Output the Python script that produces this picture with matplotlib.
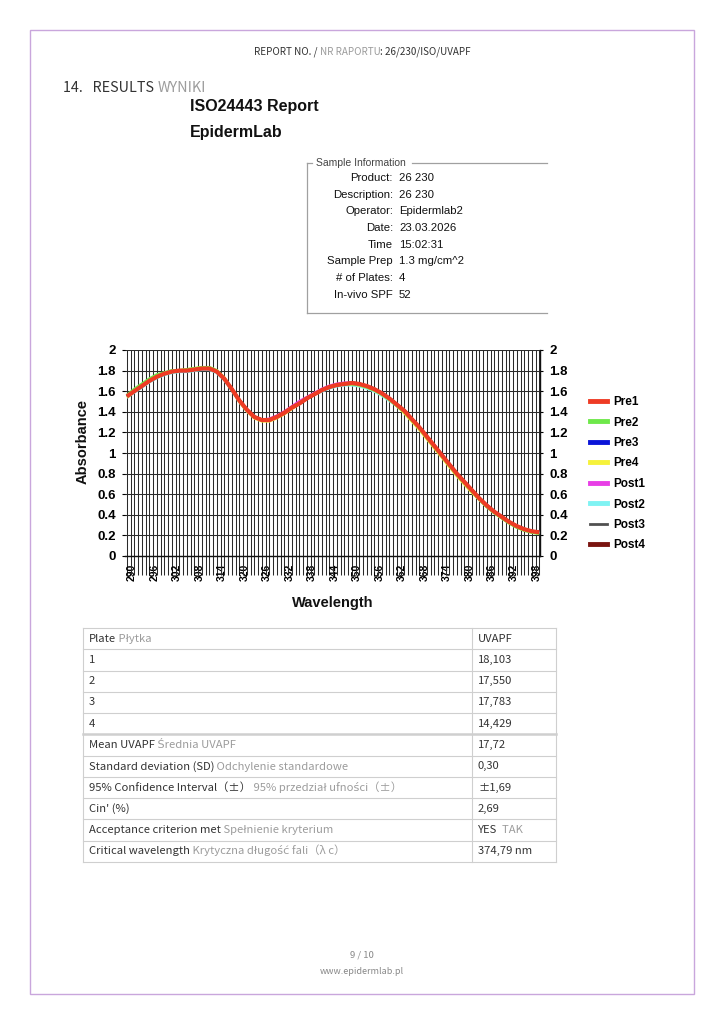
import numpy as np
import matplotlib
matplotlib.use('Agg')
import matplotlib.pyplot as plt
from matplotlib.lines import Line2D
from matplotlib.patches import Rectangle
from matplotlib.ticker import MultipleLocator, FixedLocator, FuncFormatter
from matplotlib.transforms import offset_copy

# ---- data ----
wavelength = np.arange(290, 401, 2)

pre1 = [1.55, 1.60, 1.65, 1.70, 1.74, 1.77, 1.79, 1.80, 1.80, 1.81, 1.82, 1.82, 1.79, 1.72,
        1.62, 1.51, 1.42, 1.35, 1.32, 1.32, 1.35, 1.39, 1.44, 1.48, 1.53, 1.57, 1.61, 1.64,
        1.66, 1.67, 1.68, 1.67, 1.65, 1.62, 1.58, 1.53, 1.47, 1.41, 1.33, 1.25, 1.16, 1.07,
        0.98, 0.89, 0.80, 0.72, 0.64, 0.56, 0.49, 0.43, 0.38, 0.33, 0.29, 0.26, 0.24, 0.23]
pre2 = [1.56, 1.62, 1.67, 1.72, 1.76, 1.78, 1.80, 1.80, 1.81, 1.82, 1.83, 1.83, 1.80, 1.72,
        1.62, 1.51, 1.42, 1.35, 1.32, 1.32, 1.35, 1.39, 1.44, 1.48, 1.53, 1.57, 1.61, 1.64,
        1.66, 1.67, 1.67, 1.66, 1.64, 1.61, 1.57, 1.52, 1.46, 1.40, 1.32, 1.24, 1.15, 1.06,
        0.97, 0.88, 0.79, 0.71, 0.63, 0.55, 0.48, 0.42, 0.37, 0.32, 0.28, 0.25, 0.23, 0.22]
pre4 = [1.54, 1.60, 1.65, 1.70, 1.74, 1.77, 1.79, 1.80, 1.81, 1.82, 1.83, 1.83, 1.80, 1.73,
        1.62, 1.50, 1.41, 1.34, 1.31, 1.31, 1.34, 1.38, 1.43, 1.48, 1.53, 1.57, 1.61, 1.64,
        1.66, 1.67, 1.67, 1.66, 1.64, 1.61, 1.57, 1.52, 1.46, 1.39, 1.31, 1.23, 1.14, 1.05,
        0.96, 0.87, 0.78, 0.70, 0.62, 0.55, 0.48, 0.42, 0.37, 0.32, 0.28, 0.25, 0.23, 0.22]
post1 = [1.55, 1.60, 1.65, 1.70, 1.74, 1.77, 1.79, 1.80, 1.80, 1.81, 1.82, 1.82, 1.79, 1.72,
         1.62, 1.51, 1.42, 1.35, 1.32, 1.33, 1.36, 1.40, 1.45, 1.50, 1.54, 1.58, 1.62, 1.65,
         1.67, 1.68, 1.68, 1.67, 1.65, 1.62, 1.58, 1.53, 1.47, 1.41, 1.33, 1.25, 1.16, 1.07,
         0.98, 0.89, 0.80, 0.72, 0.64, 0.56, 0.49, 0.43, 0.38, 0.33, 0.29, 0.26, 0.24, 0.23]
post2 = [1.54, 1.59, 1.64, 1.69, 1.73, 1.76, 1.78, 1.79, 1.79, 1.80, 1.81, 1.81, 1.78, 1.71,
         1.61, 1.50, 1.41, 1.35, 1.32, 1.32, 1.35, 1.39, 1.44, 1.48, 1.53, 1.57, 1.60, 1.63,
         1.65, 1.66, 1.66, 1.65, 1.63, 1.60, 1.56, 1.51, 1.46, 1.40, 1.32, 1.24, 1.15, 1.06,
         0.97, 0.88, 0.79, 0.71, 0.63, 0.55, 0.48, 0.42, 0.37, 0.32, 0.28, 0.25, 0.23, 0.22]
# these three sit completely under Pre1 in the picture
pre3 = list(pre1)
post3 = list(pre1)
post4 = list(pre1)

series_names = ['Pre1', 'Pre2', 'Pre3', 'Pre4', 'Post1', 'Post2', 'Post3', 'Post4']
series_vals = [pre1, pre2, pre3, pre4, post1, post2, post3, post4]
series_cols = ['#ee3b24', '#6ee84a', '#0a14d8', '#f6f23a', '#e83ee6', '#7ff3f3', '#505050', '#7a1410']

sample_labels = ['Product:', 'Description:', 'Operator:', 'Date:', 'Time', 'Sample Prep',
                 '# of Plates:', 'In-vivo SPF']
sample_values = ['26 230', '26 230', 'Epidermlab2', '23.03.2026', '15:02:31', '1.3 mg/cm^2',
                 '4', '52']

table_en = ['Plate', '1', '2', '3', '4', 'Mean UVAPF', 'Standard deviation (SD)',
            '95% Confidence Interval（±）', "Cin' (%)", 'Acceptance criterion met',
            'Critical wavelength']
table_pl = ['Płytka', '', '', '', '', 'Średnia UVAPF', 'Odchylenie standardowe',
            '95% przedział ufności（±）', '', 'Spełnienie kryterium',
            'Krytyczna długość fali（λ c）']
table_val = ['UVAPF', '18,103', '17,550', '17,783', '14,429', '17,72', '0,30', '±1,69',
             '2,69', 'YES', '374,79 nm']
table_val_pl = ['', '', '', '', '', '', '', '', '', 'TAK', '']

# ---- page ----
W, H = 724, 1024
DOC = ['Noto Sans CJK JP', 'DejaVu Sans']
ARIAL = ['Liberation Sans', 'DejaVu Sans']
DARK = '#333333'
GREY = '#9c9c9c'

fig = plt.figure(figsize=(7.24, 10.24), dpi=100)
page = fig.add_axes([0, 0, 1, 1])
page.set_xlim(0, W)
page.set_ylim(H, 0)
page.axis('off')

page.add_patch(Rectangle((30, 30), 664, 964, fill=False, ec='#c9a6dc', lw=1.0))


def chunks(x, y, parts, size, family=DOC):
    prev = None
    for txt, col in parts:
        if prev is None:
            prev = page.text(x, y, txt, color=col, fontsize=size, family=family,
                             ha='left', va='center')
        else:
            prev = page.annotate(txt, xy=(1, 0), xycoords=prev, color=col, fontsize=size,
                                 family=family, ha='left', va='bottom')
    return prev


chunks(254, 52, [('REPORT NO. / ', DARK), ('NR RAPORTU', GREY), (': 26/230/ISO/UVAPF', DARK)], 7.1)
chunks(63, 88, [('14.   RESULTS ', DARK), ('WYNIKI', GREY)], 10.3)

page.text(190, 107, 'ISO24443 Report', fontsize=11.5, fontweight='bold', family=ARIAL,
          ha='left', va='center', color='#111111')
page.text(190, 133, 'EpidermLab', fontsize=11.5, fontweight='bold', family=ARIAL,
          ha='left', va='center', color='#111111')

# sample information frame
page.plot([307, 312], [163, 163], color='#a0a0a0', lw=0.9)
page.plot([412, 547], [163, 163], color='#a0a0a0', lw=0.9)
page.plot([307, 307], [163, 313], color='#a0a0a0', lw=0.9)
page.plot([307, 547], [313, 313], color='#a0a0a0', lw=0.9)
page.text(316, 163, 'Sample Information', fontsize=7.5, family=ARIAL, color='#444444',
          ha='left', va='center')
for i, (lab, val) in enumerate(zip(sample_labels, sample_values)):
    yy = 178 + i * 16.7
    page.text(393, yy, lab, fontsize=8.2, family=ARIAL, color='#111111', ha='right', va='center')
    page.text(399, yy, val, fontsize=8.2, family=ARIAL, color='#111111', ha='left', va='center')

# results table
row_y = np.linspace(628, 862, len(table_en) + 1)
for i, yy in enumerate(row_y):
    page.plot([83, 556], [yy, yy], color='#cfcfcf', lw=1.8 if i == 5 else 0.8)
for xx in [83, 472, 556]:
    page.plot([xx, xx], [row_y[0], row_y[-1]], color='#cfcfcf', lw=0.8)
for i in range(len(table_en)):
    yc = (row_y[i] + row_y[i + 1]) / 2
    parts = [(table_en[i], DARK)]
    if table_pl[i]:
        parts.append((' ' + table_pl[i], GREY))
    chunks(89, yc, parts, 8.1)
    vparts = [(table_val[i], DARK)]
    if table_val_pl[i]:
        vparts.append(('  ' + table_val_pl[i], GREY))
    chunks(478, yc, vparts, 8.1)

page.text(362, 955, '9 / 10', fontsize=6.8, family=DOC, color='#888888', ha='center', va='center')
page.text(362, 972, 'www.epidermlab.pl', fontsize=6.5, family=DOC, color='#888888',
          ha='center', va='center')

# ---- absorbance chart ----
ax = fig.add_axes([125 / W, 1 - 556 / H, 415 / W, 206 / H])
ax.set_facecolor('white')
for name, vals, col in list(zip(series_names, series_vals, series_cols))[::-1]:
    lw = 3.0 if name == 'Pre1' else 2.2
    ax.plot(wavelength, vals, color=col, lw=lw, solid_capstyle='butt', zorder=3)

ax.set_xlim(289.5, 400.2)
ax.set_ylim(0, 2)
ax.xaxis.set_major_locator(FixedLocator(np.arange(290, 399, 6)))
ax.xaxis.set_minor_locator(MultipleLocator(1))
ax.yaxis.set_major_locator(MultipleLocator(0.2))
ax.yaxis.set_major_formatter(FuncFormatter(lambda v, p: f'{v:g}'))
ax.grid(True, which='both', axis='x', color='#2a2a2a', lw=0.75, zorder=1)
ax.grid(True, which='major', axis='y', color='#2a2a2a', lw=0.75, zorder=1)
ax.set_axisbelow(True)

ax.tick_params(axis='x', which='both', direction='out', length=14, width=0.75,
               color='#2a2a2a', bottom=True, top=False)
ax.tick_params(axis='x', which='major', pad=-8.5, labelsize=7.5, rotation=90)
ax.tick_params(axis='y', which='major', direction='out', length=2.5, width=0.8,
               left=True, right=True, labelleft=True, labelright=True, labelsize=9.5, pad=4)
for lab in ax.get_xticklabels() + ax.get_yticklabels():
    lab.set_fontweight('bold')
    lab.set_family(ARIAL)
for lab in ax.get_xticklabels():
    lab.set_transform(offset_copy(lab.get_transform(), fig=fig, x=5, y=0, units='dots'))

ax.spines['top'].set_visible(False)
ax.spines['left'].set_visible(False)
ax.spines['bottom'].set_color('#111111')
ax.spines['right'].set_color('#111111')
ax.spines['bottom'].set_linewidth(1.0)
ax.spines['right'].set_linewidth(1.0)

page.text(83, 441, 'Absorbance', rotation=90, fontsize=10.5, fontweight='bold', family=ARIAL,
          ha='center', va='center', color='#111111')
page.text(333, 603, 'Wavelength', fontsize=10.5, fontweight='bold', family=ARIAL,
          ha='center', va='center', color='#111111')

handles = [Line2D([], [], color=c, lw=(2.0 if n == 'Post3' else 3.5)) for n, c in
           zip(series_names, series_cols)]
leg = fig.legend(handles, series_names, loc='upper left', bbox_to_anchor=(590 / W, 1 - 396 / H),
                 frameon=False, borderpad=0, borderaxespad=0, handlelength=1.4,
                 handletextpad=0.6, labelspacing=0.72,
                 prop={'family': ARIAL, 'weight': 'bold', 'size': 8.5})

fig.savefig('out.png', dpi=100, facecolor='white')
